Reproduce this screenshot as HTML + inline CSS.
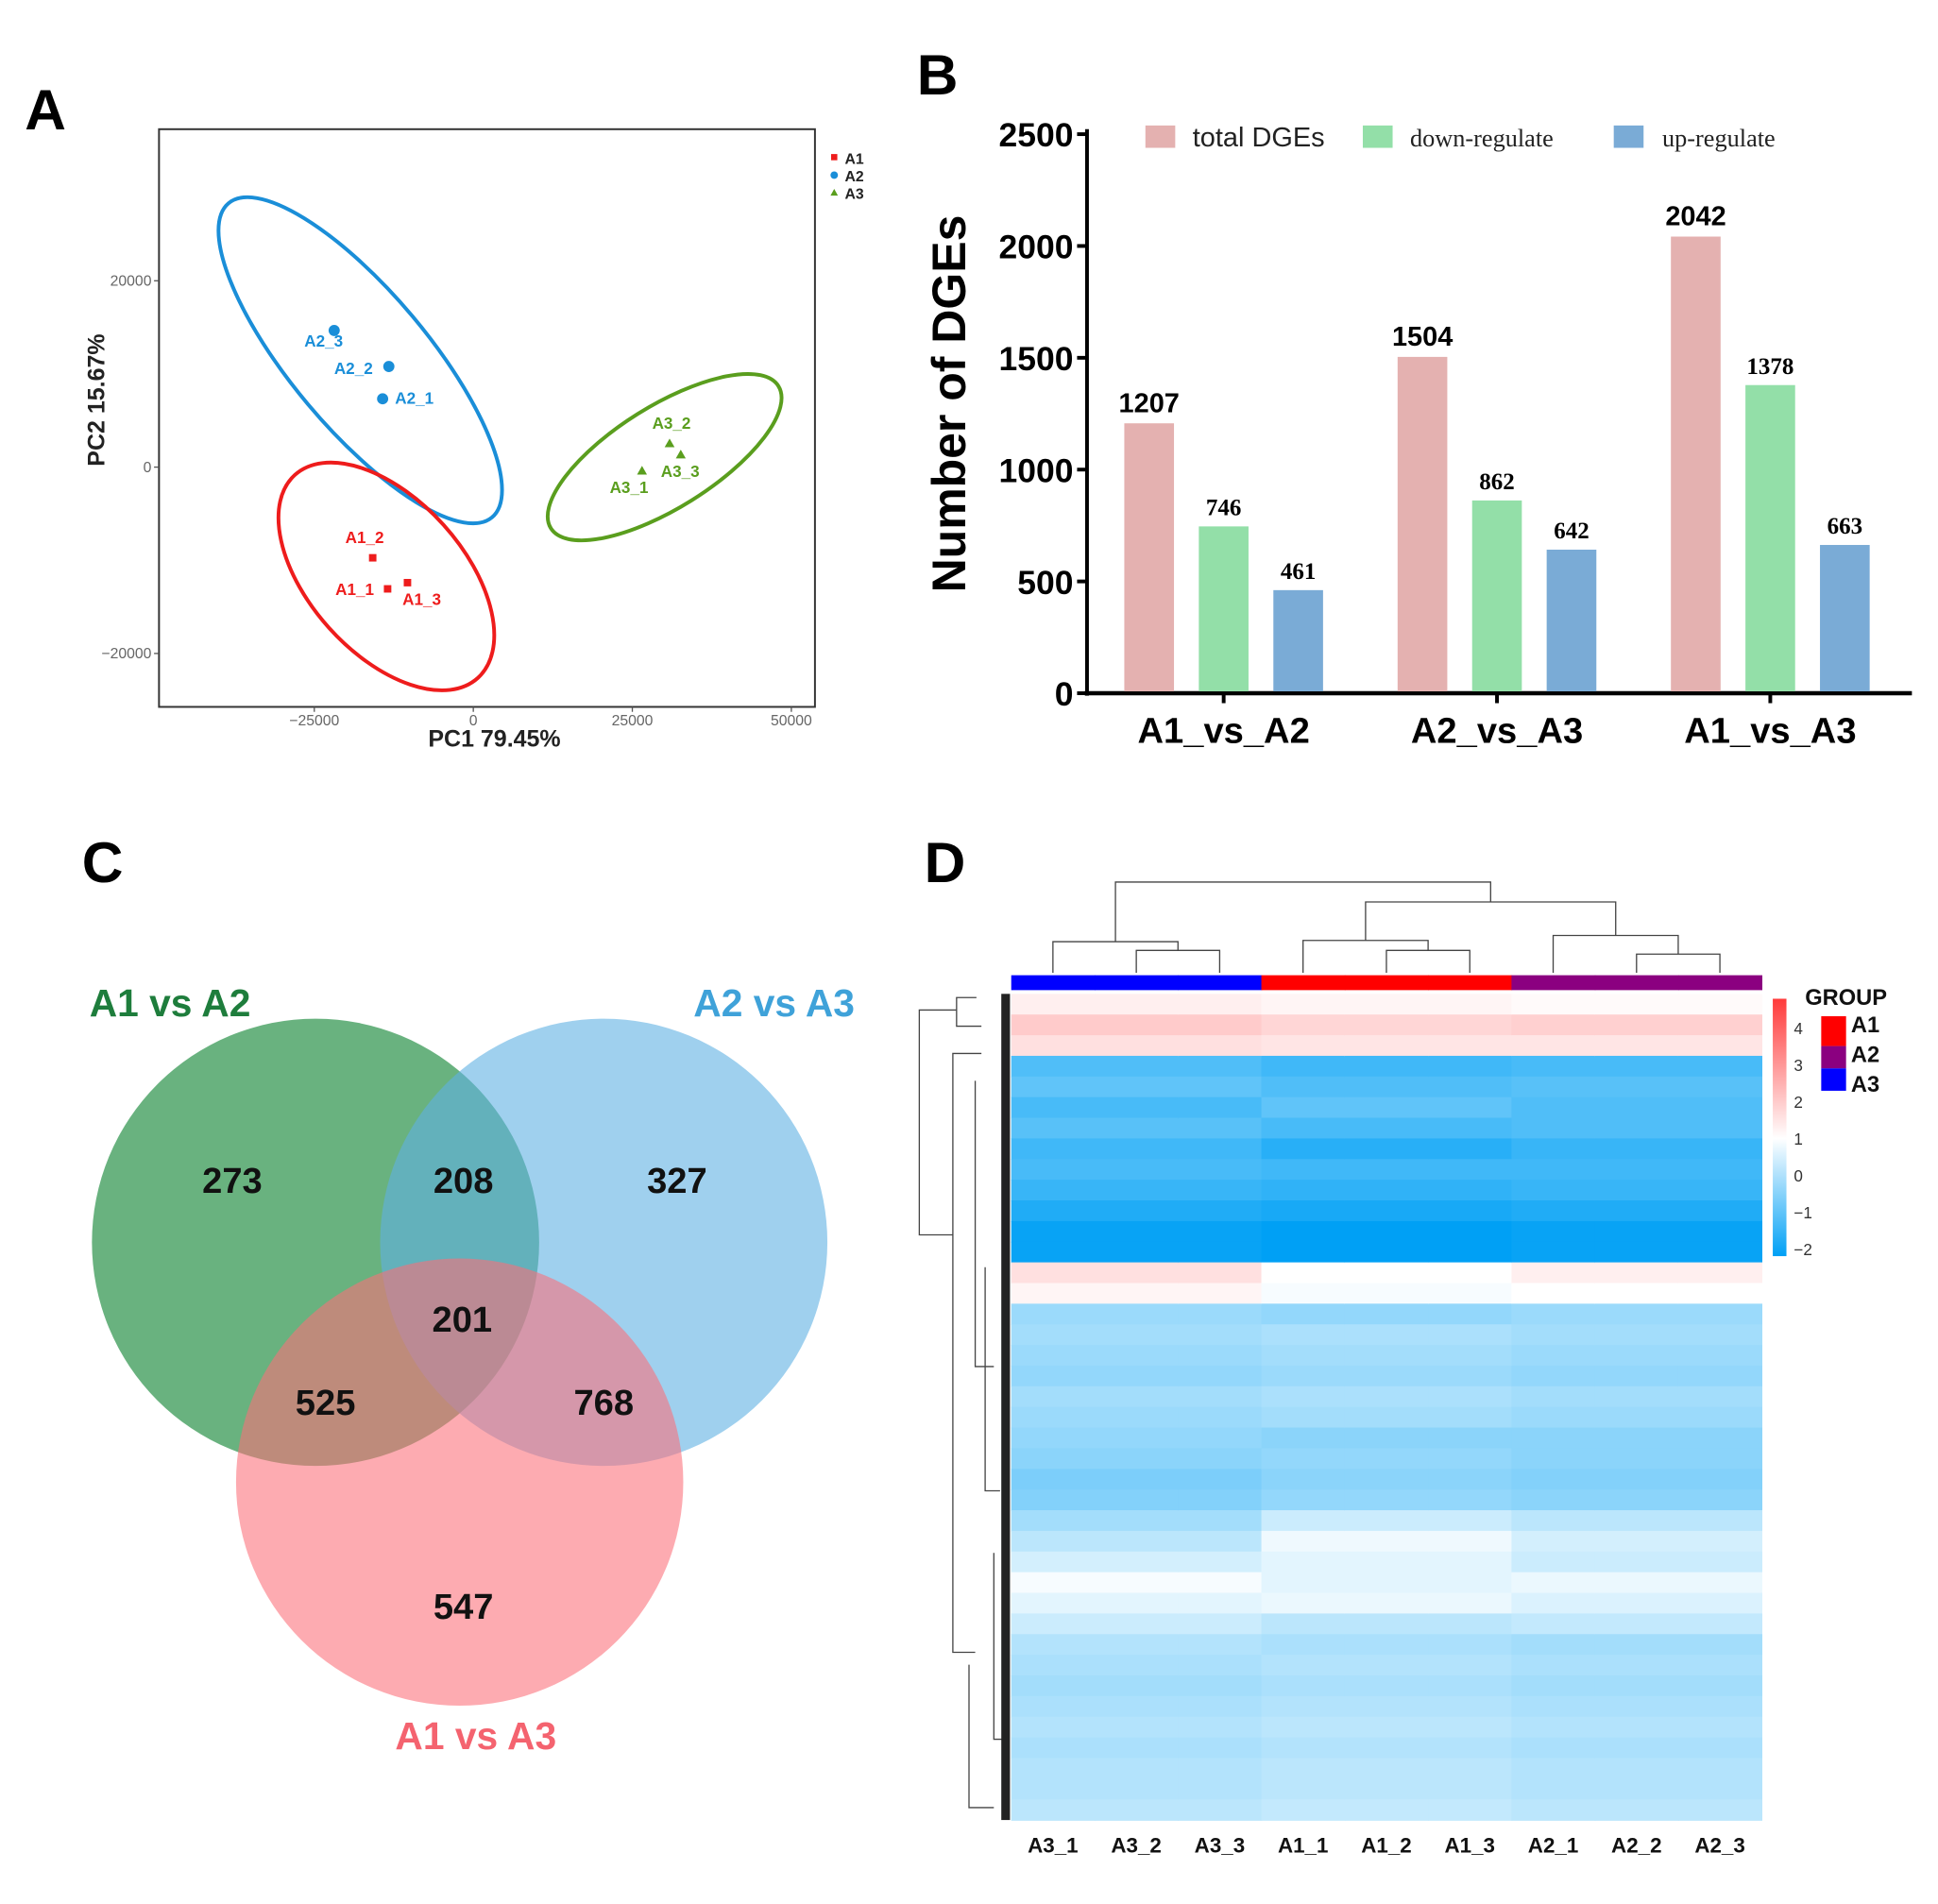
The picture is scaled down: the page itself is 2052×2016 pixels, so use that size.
<!DOCTYPE html>
<html><head><meta charset="utf-8"><style>
html,body{margin:0;padding:0;background:#fff;}
svg{display:block;}
text{font-family:"Liberation Sans",sans-serif;}
.serif{font-family:"Liberation Serif",serif;}
</style></head><body>
<svg id="fig" xmlns="http://www.w3.org/2000/svg" width="2052" height="2016" viewBox="0 0 1560 1532.6" preserveAspectRatio="none">
<rect width="1560" height="1533" fill="#fff"/>
<g font-weight="bold" font-size="46">
<text x="20" y="104">A</text>
<text x="738" y="76">B</text>
<text x="66" y="710">C</text>
<text x="744" y="710">D</text>
</g>
<g id="pca"></g>
<g id="bars"></g>
<g id="venn"></g>
<g id="heat"></g>
</svg>
<script>
// ---------- PCA data ----------
const pcaNames = ["A1_1","A1_2","A1_3","A2_1","A2_2","A2_3","A3_1","A3_2","A3_3"];
const pcaGroup = ["A1","A1","A1","A2","A2","A2","A3","A3","A3"];
const pcaX = [-13477,-15820,-10352,-14258,-13281,-21875,26523,30859,32617];
const pcaY = [-13067,-9733,-12400,7333,10800,14667,-400,2533,1333];
const pcaXTicks = [-25000,0,25000,50000];
const pcaYTicks = [-20000,0,20000];
// ---------- Bar data ----------
const barCats = ["A1_vs_A2","A2_vs_A3","A1_vs_A3"];
const barTotal = [1207,1504,2042];
const barDown = [746,862,1378];
const barUp = [461,642,663];
const barTicks = [0,500,1000,1500,2000,2500];
// ---------- Venn data ----------
const vennOnlyA = 273, vennAB = 208, vennOnlyB = 327, vennABC = 201, vennAC = 525, vennBC = 768, vennOnlyC = 547;
// ---------- Heatmap data ----------
const heatCols = ["A3_1","A3_2","A3_3","A1_1","A1_2","A1_3","A2_1","A2_2","A2_3"];
const heatColGroup = ["A3","A3","A3","A1","A1","A1","A2","A2","A2"];
const heatA3 = [1.3,2.0,1.6,-1.2,-1.0,-1.3,-1.1,-1.4,-1.3,-1.5,-1.8,-2.1,-2.1,1.6,1.2,-0.25,-0.15,-0.25,-0.35,-0.15,-0.25,-0.35,-0.45,-0.65,-0.55,-0.15,0.15,0.45,0.9,0.65,0.35,0.05,-0.05,-0.15,-0.05,0.05,-0.05,0.05,0.05,0.15];
const heatA1 = [1.2,1.8,1.5,-1.4,-1.2,-1.0,-1.3,-1.7,-1.4,-1.6,-1.9,-2.2,-2.2,1.0,0.9,-0.35,-0.05,-0.15,-0.25,-0.05,-0.15,-0.45,-0.35,-0.45,-0.35,0.35,0.8,0.65,0.65,0.75,0.15,-0.05,0.05,-0.05,0.05,0.15,0.05,0.15,0.15,0.25];
const heatA2 = [1.1,1.9,1.5,-1.3,-1.1,-1.2,-1.2,-1.5,-1.4,-1.5,-1.8,-2.1,-2.1,1.3,1.0,-0.25,-0.15,-0.25,-0.35,-0.15,-0.25,-0.45,-0.45,-0.55,-0.45,0.15,0.45,0.35,0.75,0.55,0.25,-0.15,-0.05,-0.15,-0.05,0.05,-0.05,0.05,0.05,0.15];
const scaleTicks = [4,3,2,1,0,-1,-2];

const NS="http://www.w3.org/2000/svg";
function mk(parent,tag,attrs,txt){const e=document.createElementNS(NS,tag);for(const k in attrs)e.setAttribute(k,attrs[k]);if(txt!==undefined)e.textContent=txt;parent.appendChild(e);return e;}
const groupColor={A1:"#ee1c1c",A2:"#1a8ed8",A3:"#5a9e1e"};

// ===== PCA =====
(function(){
const g=document.getElementById('pca');
const px=v=>381+v/25000*128, py=v=>376-v/20000*150;
let e=mk(g,'rect',{x:128,y:104,width:528,height:465,fill:'none',stroke:'#333','stroke-width':1.5});


pcaXTicks.forEach(t=>{mk(g,'line',{x1:px(t),x2:px(t),y1:569,y2:573,stroke:'#555'});
 e=mk(g,'text',{x:px(t),y:584,'font-size':12,fill:'#666','text-anchor':'middle'},t===0?'0':String(t).replace('-','\u2212'));
 
 });
pcaYTicks.forEach(t=>{mk(g,'line',{x1:124,x2:128,y1:py(t),y2:py(t),stroke:'#555'});
 e=mk(g,'text',{x:122,y:py(t)+4,'font-size':12,fill:'#666','text-anchor':'end'},t===0?'0':String(t).replace('-','\u2212'));
 
 });
e=mk(g,'text',{x:398,y:601,'font-size':19,'font-weight':'bold','text-anchor':'middle',fill:'#222'},'PC1 79.45%');


e=mk(g,'text',{x:0,y:0,'font-size':19,'font-weight':'bold','text-anchor':'middle',fill:'#222',transform:'translate(84,322) rotate(-90)'},'PC2 15.67%');


[["A2",290,290,165,55,50],["A1",311,464,110,62,48],["A3",535,368,108,41,-32]].forEach(a=>{
 e=mk(g,'ellipse',{cx:a[1],cy:a[2],rx:a[3],ry:a[4],transform:`rotate(${a[5]} ${a[1]} ${a[2]})`,fill:'none',stroke:groupColor[a[0]],'stroke-width':3});
 
 });
const lblOff={"A1_1":[-42,5],"A1_2":[-22,-12],"A1_3":[-4,18],"A2_1":[10,4],"A2_2":[-44,6],"A2_3":[-24,13],"A3_1":[-26,18],"A3_2":[-14,-12],"A3_3":[-16,18]};
pcaNames.forEach((n,i)=>{
 const x=px(pcaX[i]),y=py(pcaY[i]),c=groupColor[pcaGroup[i]];let m;
 if(pcaGroup[i]==="A1") m=mk(g,'rect',{x:x-3,y:y-3,width:6,height:6,fill:c});
 else if(pcaGroup[i]==="A2") m=mk(g,'circle',{cx:x,cy:y,r:4.5,fill:c});
 else m=mk(g,'polygon',{points:`${x},${y-4} ${x-4},${y+3} ${x+4},${y+3}`,fill:c});
 
 
 const t=mk(g,'text',{x:x+lblOff[n][0],y:y+lblOff[n][1],'font-size':13,'font-weight':'bold',fill:c},n);
 
 });
[["A1",127],["A2",141],["A3",155]].forEach(l=>{
 const c=groupColor[l[0]];
 if(l[0]==="A1") mk(g,'rect',{x:669,y:l[1]-3,width:5,height:5,fill:c});
 else if(l[0]==="A2") mk(g,'circle',{cx:671.5,cy:l[1],r:3,fill:c});
 else mk(g,'polygon',{points:`671.5,${l[1]-3} 668.5,${l[1]+2.5} 674.5,${l[1]+2.5}`,fill:c});
 const t=mk(g,'text',{x:680,y:l[1]+5,'font-size':12,'font-weight':'bold',fill:'#222'},l[0]);
 
 });
})();

// ===== Bars =====
(function(){
const g=document.getElementById('bars');
const y0=558, yv=v=>y0-v/500*90;
const cx=i=>985+i*220;
let e;
mk(g,'line',{x1:875,x2:875,y1:104,y2:560,stroke:'#000','stroke-width':3});
mk(g,'line',{x1:873,x2:1539,y1:558,y2:558,stroke:'#000','stroke-width':3.5});
barTicks.forEach(t=>{mk(g,'line',{x1:867,x2:875,y1:yv(t),y2:yv(t),stroke:'#000','stroke-width':3});
 e=mk(g,'text',{x:864,y:yv(t)+10,'font-size':27,'font-weight':'bold','text-anchor':'end',fill:'#000'},t);
 
 });
e=mk(g,'text',{x:0,y:0,'font-size':38,'font-weight':'bold','text-anchor':'middle',fill:'#000',transform:'translate(777,325) rotate(-90)'},'Number of DGEs');


const series=[[barTotal,'#e4b1b0',-60,'total'],[barDown,'#93dfa8',0,'down'],[barUp,'#7aabd6',60,'up']];
barCats.forEach((c,i)=>{
 mk(g,'line',{x1:cx(i),x2:cx(i),y1:558,y2:566,stroke:'#000','stroke-width':3});
 e=mk(g,'text',{x:cx(i),y:598,'font-size':29,'font-weight':'bold','text-anchor':'middle',fill:'#000'},c);
 
 
 series.forEach(s=>{
  const v=s[0][i],x=cx(i)+s[2]-20;
  e=mk(g,'rect',{x:x,y:yv(v),width:40,height:y0-1.5-yv(v),fill:s[1]});
  
  
  const isT=s[3]==='total';
  e=mk(g,'text',{x:cx(i)+s[2],y:yv(v)-9,'font-size':isT?22:19,'font-weight':'bold','text-anchor':'middle',fill:'#000',class:isT?'':'serif'},v);
  
  });});
[[922,'#e4b1b0','total DGEs',960,''],[1097,'#93dfa8','down-regulate',1135,'serif'],[1299,'#7aabd6','up-regulate',1338,'serif']].forEach(l=>{
 e=mk(g,'rect',{x:l[0],y:101,width:24,height:18,fill:l[1]});
 
 
 e=mk(g,'text',{x:l[3],y:118,'font-size':l[4]?20:22,fill:'#222',class:l[4]},l[2]);
 
 });
})();

// ===== Venn =====
(function(){
const g=document.getElementById('venn');let e;
e=mk(g,'circle',{cx:254,cy:1000,r:180,fill:'#2f944d','fill-opacity':0.72});


e=mk(g,'circle',{cx:486,cy:1000,r:180,fill:'#5fb0e2','fill-opacity':0.6});


e=mk(g,'circle',{cx:370,cy:1193,r:180,fill:'#fc6e78','fill-opacity':0.58});


[[vennOnlyA,187,960],[vennAB,373,960],[vennOnlyB,545,960],[vennABC,372,1072],[vennAC,262,1139],[vennBC,486,1139],[vennOnlyC,373,1303]].forEach(v=>{
 e=mk(g,'text',{x:v[1],y:v[2],'font-size':29,'font-weight':'bold','text-anchor':'middle',fill:'#111'},v[0]);
 
 });
e=mk(g,'text',{x:72,y:818,'font-size':31,'font-weight':'bold',fill:'#1e7d3c'},'A1 vs A2');


e=mk(g,'text',{x:688,y:818,'font-size':31,'font-weight':'bold',fill:'#3fa2d9','text-anchor':'end'},'A2 vs A3');


e=mk(g,'text',{x:383,y:1408,'font-size':31,'font-weight':'bold',fill:'#f4636f','text-anchor':'middle'},'A1 vs A3');


})();

// ===== Heatmap =====
(function(){
const g=document.getElementById('heat');let e;
const X0=814,X1=1418,Y0=800,Y1=1465,cw=(X1-X0)/heatCols.length,rh=(Y1-Y0)/heatA3.length;
function col(v){
 const lerp=(a,b,t)=>Math.round(a+(b-a)*t);
 if(v>=1){const t=Math.min(1,(v-1)/3.8);return `rgb(${lerp(255,255,t)},${lerp(255,58,t)},${lerp(255,58,t)})`;}
 const t=Math.min(1,(1-v)/3.2);return `rgb(${lerp(255,0,t)},${lerp(255,160,t)},${lerp(255,245,t)})`;}
const grp={A3:heatA3,A1:heatA1,A2:heatA2};
heatCols.forEach((c,j)=>{
 const arr=grp[heatColGroup[j]];
 arr.forEach((v,i)=>{
  e=mk(g,'rect',{x:X0+j*cw,y:Y0+i*rh,width:cw+0.6,height:rh+0.6,fill:col(v)});
  
  });
 e=mk(g,'text',{x:X0+(j+0.5)*cw,y:1491,'font-size':17,'font-weight':'bold','text-anchor':'middle',fill:'#111'},c);
 
 
 const gc={A1:'#ff0000',A2:'#8b0080',A3:'#0000ff'}[heatColGroup[j]];
 e=mk(g,'rect',{x:X0+j*cw,y:785,width:cw+0.6,height:12,fill:gc});
 
 });
const cxp=j=>X0+(j+0.5)*cw;
const dl=(pts)=>{e=mk(g,'polyline',{points:pts,fill:'none',stroke:'#444','stroke-width':1});};
[0,3,6].forEach((b,k)=>{
 const hi=[765,765,768][k], lo=[758,757,753][k];
 const m=(cxp(b+1)+cxp(b+2))/2;
 dl(`${cxp(b+1)},783 ${cxp(b+1)},${hi} ${cxp(b+2)},${hi} ${cxp(b+2)},783`);
 dl(`${cxp(b)},783 ${cxp(b)},${lo} ${m},${lo} ${m},${hi}`);});
const mA3=(cxp(0)+(cxp(1)+cxp(2))/2)/2, mA1=(cxp(3)+(cxp(4)+cxp(5))/2)/2, mA2=(cxp(6)+(cxp(7)+cxp(8))/2)/2;
dl(`${mA1},757 ${mA1},726 ${mA2},726 ${mA2},753`);
const m12=(mA1+mA2)/2;
dl(`${mA3},758 ${mA3},710 ${m12},710 ${m12},726`);
const ll=(pts)=>{e=mk(g,'polyline',{points:pts,fill:'none',stroke:'#444','stroke-width':1});};
ll('770,813 740,813 740,994 767,994');
ll('786,803 770,803 770,826 790,826');
ll('790,848 767,848 767,1330 785,1330');
ll('785,870 785,1100 800,1100');
ll('793,1020 793,1200 805,1200');
ll('780,1340 780,1455 800,1455');
ll('800,1250 800,1400 808,1400');
e=mk(g,'rect',{x:806,y:800,width:7,height:665,fill:'#222'});


const sy=v=>946-v*29.6;
const defs=mk(document.getElementById('fig'),'defs',{});
const lg=mk(defs,'linearGradient',{id:'cs',x1:0,y1:1,x2:0,y2:0});
[-2.2,-1,0,1,2,3,4.8].forEach(v=>mk(lg,'stop',{offset:((v+2.2)/7).toFixed(3),'stop-color':col(v)}));
e=mk(g,'rect',{x:1427,y:sy(4.8),width:11,height:sy(-2.2)-sy(4.8),fill:'url(#cs)'});


scaleTicks.forEach(t=>{e=mk(g,'text',{x:1444,y:sy(t)+5,'font-size':13,fill:'#333'},t<0?'\u2212'+(-t):t);
 
 });
e=mk(g,'text',{x:1453,y:809,'font-size':18,'font-weight':'bold',fill:'#111'},'GROUP');


[['A1','#ff0000',818],['A2','#8b0080',842],['A3','#0000ff',860]].forEach((l,i)=>{
 mk(g,'rect',{x:1466,y:l[2],width:20,height:[24,18,18][i],fill:l[1]});
 e=mk(g,'text',{x:1490,y:[831,855,879][i],'font-size':18,'font-weight':'bold',fill:'#111'},l[0]);
 
 });
})();
</script>
</body></html>
